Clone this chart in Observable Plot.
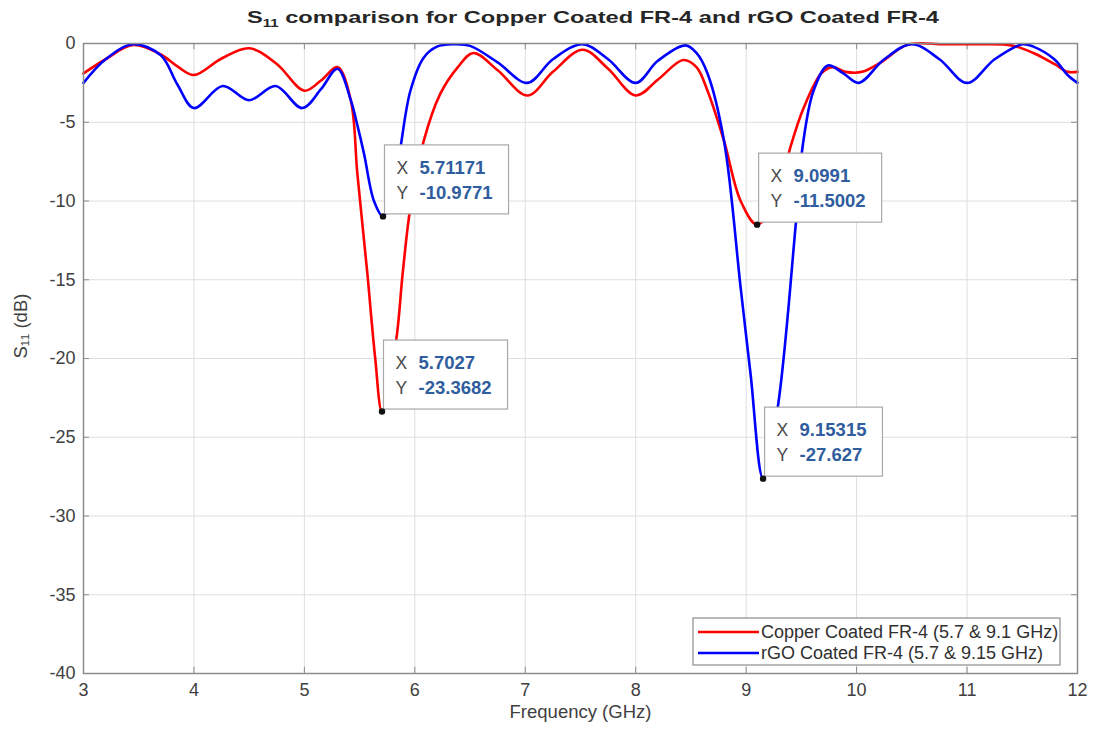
<!DOCTYPE html>
<html><head><meta charset="utf-8">
<script src="https://cdn.jsdelivr.net/npm/d3@7"></script>
<script src="https://cdn.jsdelivr.net/npm/@observablehq/plot@0.6"></script>
<style>
body{margin:0;background:#fff;font-family:"Liberation Sans",Arial,sans-serif;}
#wrap{position:relative;width:1093px;height:729px;overflow:hidden;background:#fff}
svg{display:block}
</style></head><body><div id="wrap">
<svg id="title" width="1093" height="30">
 <text x="593" y="23" text-anchor="middle" font-size="16.5" font-weight="bold" fill="#262626" textLength="692" lengthAdjust="spacingAndGlyphs">S<tspan font-size="10.5" dy="4">11</tspan><tspan dy="-4"> comparison for Copper Coated FR-4 and rGO Coated FR-4</tspan></text>
</svg>
</div>
<script>
// ---- data ----
const seriesNames = ["Copper Coated FR-4 (5.7 & 9.1 GHz)", "rGO Coated FR-4 (5.7 & 9.15 GHz)"];
const seriesColors = ["#ff0000", "#0000ff"];

const copperFreq = [3.0, 3.2, 3.45, 3.7, 3.85, 4.0, 4.25, 4.5, 4.75, 5.0, 5.15, 5.3, 5.42, 5.48, 5.57, 5.64, 5.7027, 5.83, 5.89, 5.96, 6.08, 6.23, 6.39, 6.53, 6.75, 7.02, 7.25, 7.52, 7.75, 8.0, 8.2, 8.43, 8.55, 8.65, 8.8, 8.95, 9.0991, 9.29, 9.40, 9.52, 9.68, 9.78, 9.9, 10.05, 10.22, 10.46, 10.8, 11.1, 11.4, 11.6, 11.79, 11.91, 12.0];
const copperS11  = [-1.9, -1.0, -0.1, -0.7, -1.45, -2.0, -0.95, -0.3, -1.3, -3.0, -2.35, -1.5, -3.6, -8.3, -14.6, -19.9, -23.3682, -18.9, -14.6, -10.4, -6.2, -3.2, -1.5, -0.6, -1.7, -3.3, -1.8, -0.4, -1.6, -3.3, -2.3, -1.05, -1.5, -3.0, -6.2, -10.0, -11.5002, -9.5, -6.6, -4.1, -1.9, -1.5, -1.8, -1.8, -1.2, -0.08, -0.05, -0.05, -0.12, -0.6, -1.3, -1.8, -1.8];

const rgoFreq = [3.0, 3.2, 3.45, 3.7, 3.85, 4.0, 4.26, 4.5, 4.74, 4.98, 5.15, 5.3, 5.42, 5.48, 5.54, 5.63, 5.71171, 5.81, 5.87, 5.96, 6.08, 6.2, 6.35, 6.5, 6.75, 7.02, 7.25, 7.52, 7.75, 8.0, 8.2, 8.45, 8.55, 8.65, 8.8, 8.95, 9.04, 9.15315, 9.286, 9.45, 9.51, 9.61, 9.74, 9.88, 10.02, 10.25, 10.5, 10.75, 11.0, 11.25, 11.5, 11.6, 11.79, 11.91, 12.0];
const rgoS11  = [-2.5, -1.0, -0.05, -0.75, -2.6, -4.1, -2.7, -3.6, -2.7, -4.1, -2.9, -1.6, -3.6, -5.2, -7.0, -10.0, -10.9771, -9.1, -6.6, -3.0, -0.9, -0.2, -0.05, -0.15, -1.2, -2.5, -1.0, -0.05, -1.0, -2.5, -1.1, -0.12, -0.6, -1.9, -6.2, -15.5, -21.0, -27.627, -23.1, -11.4, -6.6, -3.0, -1.4, -1.9, -2.5, -1.0, -0.05, -1.0, -2.5, -1.0, -0.05, -0.2, -1.0, -2.0, -2.5];

const tipX = [5.71171, 5.7027, 9.0991, 9.15315];
const tipY = [-10.9771, -23.3682, -11.5002, -27.627];

const xTicks = [3, 4, 5, 6, 7, 8, 9, 10, 11, 12];
const yTicks = [0, -5, -10, -15, -20, -25, -30, -35, -40];
const xDomain = [3, 12];
const yDomain = [-40, 0];

// ---- build ----
const copper = copperFreq.map((f, i) => ({f, s: copperS11[i]}));
const rgo = rgoFreq.map((f, i) => ({f, s: rgoS11[i]}));
const tips = tipX.map((x, i) => ({x, y: tipY[i]}));
const tickLenY = (yDomain[1] - yDomain[0]) * 0.01;
const tickLenX = (xDomain[1] - xDomain[0]) * 0.006;
const FONT = '"Liberation Sans", Arial, sans-serif';
const axisCol = "#8c8c8c";

const chart = Plot.plot({
  width: 1093, height: 699,
  marginTop: 13, marginRight: 16, marginBottom: 56, marginLeft: 83,
  style: {fontFamily: FONT, background: "#fff", color: "#404040"},
  x: {domain: xDomain},
  y: {domain: yDomain},
  marks: [
    Plot.gridX(xTicks, {stroke: "#dedede", strokeOpacity: 1}),
    Plot.gridY(yTicks, {stroke: "#dedede", strokeOpacity: 1}),
    Plot.axisX(xTicks, {tickSize: 0, tickPadding: 10, fontSize: 18, label: null, tickFormat: d => String(d)}),
    Plot.axisY(yTicks, {tickSize: 0, tickPadding: 8, fontSize: 18, label: null, tickFormat: d => String(d)}),
    Plot.ruleX(xTicks, {x: d => d, y1: yDomain[0], y2: yDomain[0] + tickLenY, stroke: axisCol}),
    Plot.ruleX(xTicks, {x: d => d, y1: yDomain[1] - tickLenY, y2: yDomain[1], stroke: axisCol}),
    Plot.ruleY(yTicks, {y: d => d, x1: xDomain[0], x2: xDomain[0] + tickLenX, stroke: axisCol}),
    Plot.ruleY(yTicks, {y: d => d, x1: xDomain[1] - tickLenX, x2: xDomain[1], stroke: axisCol}),
    Plot.line(copper, {x: "f", y: "s", stroke: seriesColors[0], strokeWidth: 2.6, curve: "catmull-rom"}),
    Plot.line(rgo, {x: "f", y: "s", stroke: seriesColors[1], strokeWidth: 2.6, curve: "catmull-rom"}),
    Plot.frame({stroke: axisCol, strokeWidth: 1.5}),
    Plot.dot(tips, {x: "x", y: "y", fill: "#111", r: 3.2}),
    Plot.text(["Frequency (GHz)"], {text: d => d, frameAnchor: "bottom", dy: 44, fontSize: 18.5, fill: "#404040"}),
    Plot.text(["S\u2081\u2081 (dB)"], {text: d => d, frameAnchor: "left", rotate: -90, dx: -62, fontSize: 18.5, fill: "#404040"})
  ]
});
document.getElementById("wrap").appendChild(chart);

const sx = chart.scale("x"), sy = chart.scale("y");
const svg = d3.select(chart);

// data tips
const tipLayer = svg.append("g").attr("font-family", FONT).attr("text-anchor", "start");
tips.forEach(t => {
  const px = sx.apply(t.x), py = sy.apply(t.y);
  const h = 69;
  const g = tipLayer.append("g").attr("transform", `translate(${px + 2},${py - 2})`);
  const rect = g.append("rect").attr("y", -h).attr("height", h).attr("fill", "#fff").attr("stroke", "#a8a8a8").attr("stroke-width", 1.2);
  const rows = [["X", String(t.x)], ["Y", String(t.y)]];
  let maxW = 0;
  rows.forEach((r, i) => {
    const y = -h + 29 + i * 25;
    g.append("text").attr("x", 12).attr("y", y).attr("font-size", 17.5).attr("fill", "#4a4a4a").text(r[0]);
    const v = g.append("text").attr("x", 35).attr("y", y).attr("font-size", 18.5).attr("font-weight", "bold").attr("fill", "#2f5d9e").text(r[1]);
    maxW = Math.max(maxW, v.node().getComputedTextLength());
  });
  rect.attr("width", 35 + maxW + 16);
});
svg.selectAll('g[aria-label="dot"]').raise();

// legend
const lg = svg.append("g").attr("font-family", FONT).attr("text-anchor", "start").attr("transform", "translate(693,588)");
lg.append("rect").attr("width", 367).attr("height", 47).attr("fill", "#fff").attr("stroke", "#8c8c8c").attr("stroke-width", 1.2);
seriesNames.forEach((name, i) => {
  const y = 14 + i * 21;
  lg.append("line").attr("x1", 5).attr("x2", 66).attr("y1", y).attr("y2", y).attr("stroke", seriesColors[i]).attr("stroke-width", 2.5);
  lg.append("text").attr("x", 68).attr("y", y + 6).attr("font-size", 18).attr("fill", "#303030").text(name);
});
</script>
</body></html>
